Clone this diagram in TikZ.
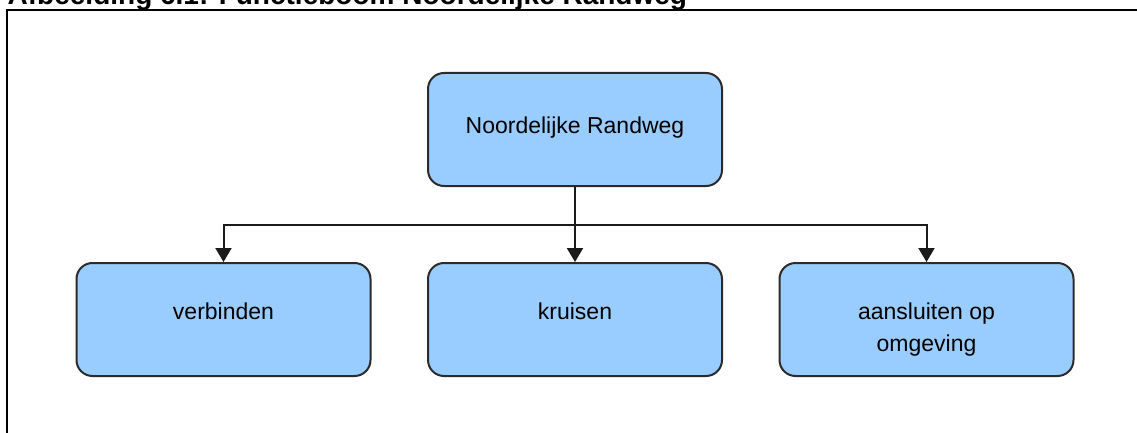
\documentclass[tikz,border=0pt]{standalone}
\usepackage{fontspec}
\setmainfont{Liberation Sans}
\usetikzlibrary{arrows.meta}

\definecolor{boxfill}{HTML}{99CCFF}
\definecolor{boxline}{HTML}{2B2B2B}
\definecolor{linkcol}{HTML}{1A1A1A}

\tikzset{
  funcbox/.style={draw=boxline, fill=boxfill, line width=2pt,
    rounded corners=16pt, minimum width=294pt, minimum height=113pt,
    inner sep=0pt, font=\fontsize{23}{32}\selectfont},
  rootbox/.style={funcbox, text height=17pt, text depth=10pt},
  leafbox/.style={funcbox, text height=17pt, text depth=18pt},
  link/.style={draw=linkcol, line width=2pt,
    -{Triangle[width=16pt,length=14pt]}},
  plainlink/.style={draw=linkcol, line width=2pt},
  caption/.style={font=\bfseries\fontsize{28}{34}\selectfont,
    inner sep=0pt, anchor=base west}
}

\begin{document}
\begin{tikzpicture}[x=1pt, y=-1pt]
  \useasboundingbox (0,0) rectangle (1137,433);

  % figure caption and frame
  \node[caption] (title) at (7.5,4.3) {Afbeelding 6.1: Functieboom Noordelijke Randweg};
  \draw[line width=1.4pt] (7,433) -- (7,10) -- (1137,10);

  % function tree
  \node[rootbox] (root) at (575,129.5) {Noordelijke Randweg};
  \node[leafbox] (verb) at (223.5,319.5) {verbinden};
  \node[leafbox] (kruis) at (575,319.5) {kruisen};
  \node[leafbox] (aansl) at (926.5,319.5)
    {\begin{tabular}[t]{@{}c@{}}aansluiten op\\omgeving\end{tabular}};

  \coordinate (bar) at (575,224.5);
  \draw[link] (root.south) -- (kruis.north);
  \draw[link] (bar) -| (verb.north);
  \draw[link] (bar) -| (aansl.north);
\end{tikzpicture}
\end{document}
